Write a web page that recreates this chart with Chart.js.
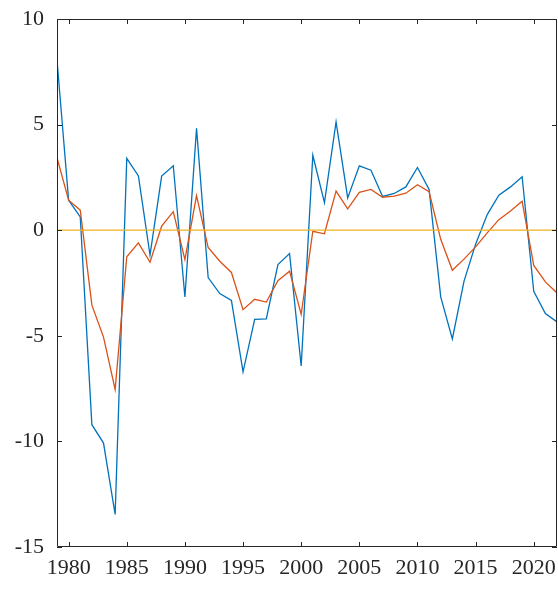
<!DOCTYPE html>
<html>
<head>
<meta charset="utf-8">
<script src="https://cdn.jsdelivr.net/npm/chart.js@4"></script>
<style>
    html, body { margin: 0; padding: 0; background: #ffffff; }
    canvas { display: block; }
</style>
</head>
<body>
<canvas id="myChart" width="558" height="593"></canvas>
<script>
// Years on the x axis
const years = [1979, 1980, 1981, 1982, 1983, 1984, 1985, 1986, 1987, 1988, 1989,
    1990, 1991, 1992, 1993, 1994, 1995, 1996, 1997, 1998, 1999,
    2000, 2001, 2002, 2003, 2004, 2005, 2006, 2007, 2008, 2009,
    2010, 2011, 2012, 2013, 2014, 2015, 2016, 2017, 2018, 2019,
    2020, 2021, 2022];

// Blue series (larger swings)
const blueValues = [8.06, 1.42, 0.63, -9.21, -10.08, -13.46, 3.40, 2.57, -1.18, 2.56, 3.05,
    -3.16, 4.82, -2.24, -3.00, -3.32, -6.71, -4.22, -4.20, -1.63, -1.11,
    -6.43, 3.55, 1.31, 5.13, 1.53, 3.05, 2.84, 1.60, 1.74, 2.05,
    2.97, 1.93, -3.16, -5.15, -2.42, -0.66, 0.74, 1.66, 2.05, 2.53,
    -2.89, -3.95, -4.34];

// Orange series (smoother)
const orangeValues = [3.43, 1.42, 0.95, -3.55, -5.06, -7.54, -1.26, -0.60, -1.52, 0.19, 0.88,
    -1.39, 1.64, -0.82, -1.47, -2.00, -3.76, -3.27, -3.40, -2.39, -1.94,
    -3.98, -0.05, -0.17, 1.85, 1.01, 1.79, 1.93, 1.56, 1.61, 1.75,
    2.15, 1.82, -0.43, -1.90, -1.37, -0.79, -0.13, 0.50, 0.91, 1.37,
    -1.67, -2.45, -2.97];

// Zero reference line
const zeroYears = [1979, 2022];
const zeroValues = [0, 0];

// Tick labels
const xTicks = [1980, 1985, 1990, 1995, 2000, 2005, 2010, 2015, 2020];
const yTicks = [-15, -10, -5, 0, 5, 10];

const toPoints = (xs, ys) => xs.map((x, i) => ({ x: x, y: ys[i] }));

// Box around the plot with ticks pointing inward
const boxPlugin = {
    id: 'box',
    afterDraw(chart) {
        const ctx = chart.ctx;
        const a = chart.chartArea;
        const xs = chart.scales.x;
        const ys = chart.scales.y;
        const len = 5;
        ctx.save();
        ctx.strokeStyle = '#262626';
        ctx.lineWidth = 1;
        ctx.beginPath();
        ctx.rect(a.left + 0.5, a.top + 0.5, a.right - a.left - 1, a.bottom - a.top - 1);
        xTicks.forEach(v => {
            const px = Math.round(xs.getPixelForValue(v)) + 0.5;
            ctx.moveTo(px, a.bottom);
            ctx.lineTo(px, a.bottom - len);
            ctx.moveTo(px, a.top);
            ctx.lineTo(px, a.top + len);
        });
        yTicks.forEach(v => {
            const py = Math.round(ys.getPixelForValue(v)) + 0.5;
            ctx.moveTo(a.left, py);
            ctx.lineTo(a.left + len, py);
            ctx.moveTo(a.right, py);
            ctx.lineTo(a.right - len, py);
        });
        ctx.stroke();
        ctx.restore();
    }
};

const tickFont = { family: '"Liberation Serif"', size: 22 };

function drawChart() {
    new Chart(document.getElementById('myChart'), {
        type: 'line',
        data: {
            datasets: [{
                data: toPoints(years, blueValues),
                borderColor: '#0072BD',
                borderWidth: 1.3,
                pointRadius: 0,
                order: 3
            }, {
                data: toPoints(years, orangeValues),
                borderColor: '#D95319',
                borderWidth: 1.3,
                pointRadius: 0,
                order: 2
            }, {
                data: toPoints(zeroYears, zeroValues),
                borderColor: '#EDB120',
                borderWidth: 1.3,
                pointRadius: 0,
                order: 1
            }]
        },
        options: {
            responsive: false,
            devicePixelRatio: 1,
            animation: false,
            layout: { autoPadding: false, padding: { top: 19, right: 1, left: 0, bottom: 0 } },
            plugins: {
                legend: { display: false },
                tooltip: { enabled: false }
            },
            elements: { line: { tension: 0 } },
            scales: {
                x: {
                    type: 'linear',
                    min: 1979,
                    max: 2022,
                    grid: { display: false, drawTicks: false },
                    border: { display: false },
                    ticks: {
                        font: tickFont,
                        color: '#262626',
                        padding: 8,
                        maxRotation: 0,
                        autoSkip: false,
                        callback: v => String(v)
                    },
                    afterBuildTicks: scale => { scale.ticks = xTicks.map(v => ({ value: v })); },
                    afterFit: scale => {
                        scale.height = 46;
                        scale.paddingLeft = 0;
                        scale.paddingRight = 0;
                    }
                },
                y: {
                    min: -15,
                    max: 10,
                    grid: { display: false, drawTicks: false },
                    border: { display: false },
                    ticks: {
                        font: tickFont,
                        color: '#262626',
                        padding: 13
                    },
                    afterBuildTicks: scale => { scale.ticks = yTicks.map(v => ({ value: v })); },
                    afterFit: scale => {
                        scale.width = 57;
                        scale.paddingTop = 0;
                        scale.paddingBottom = 0;
                    }
                }
            }
        },
        plugins: [boxPlugin]
    });
}

// make sure the serif font is ready before drawing on the canvas
document.fonts.load('22px "Liberation Serif"').then(drawChart, drawChart);
</script>
</body>
</html>
